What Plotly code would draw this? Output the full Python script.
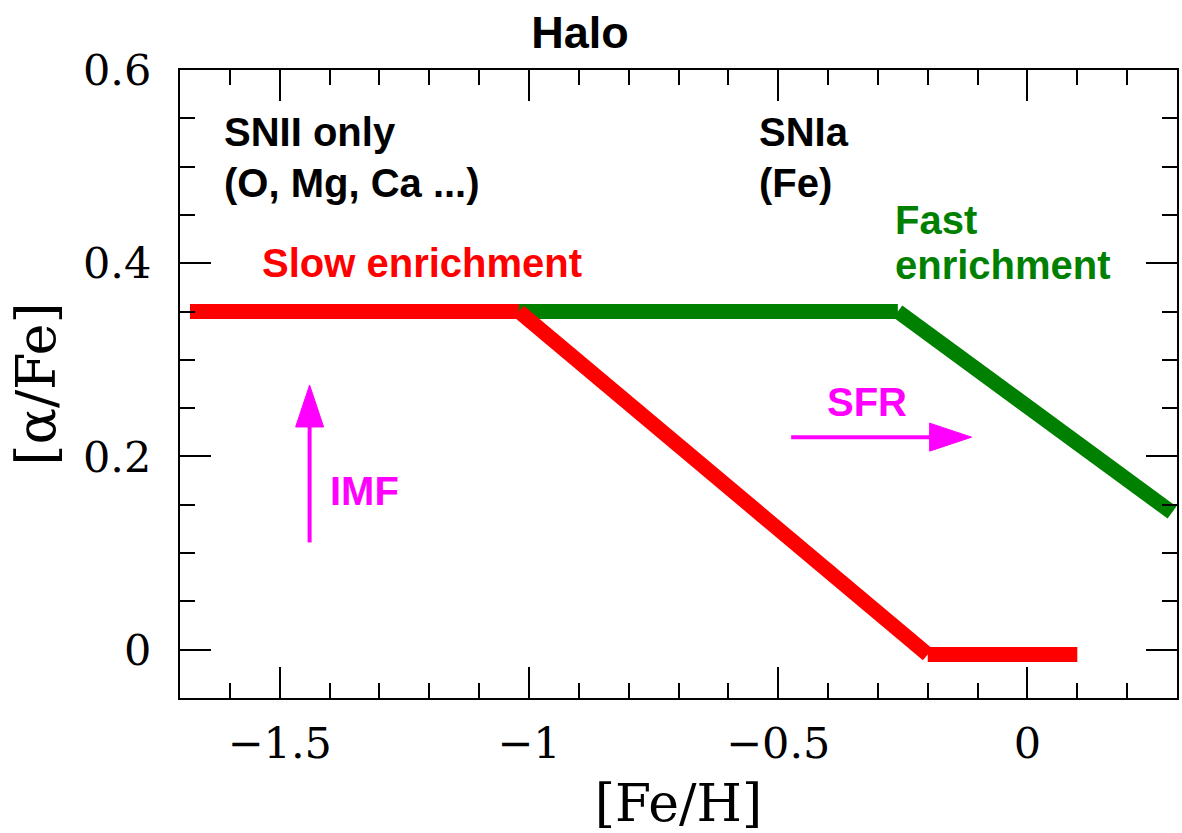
import plotly.graph_objects as go

# Chemical-evolution tracks in the [Fe/H] - [alpha/Fe] plane
slow_fe = [-1.68, -1.02, -0.20, 0.10]
slow_alpha = [0.35, 0.35, -0.005, -0.005]
fast_fe = [-1.02, -0.26, 0.29]
fast_alpha = [0.35, 0.35, 0.142]

x_range = [-1.7, 0.3]
y_range = [-0.05, 0.6]
x_ticks = [-1.5, -1, -0.5, 0]
x_ticktext = ["\u22121.5", "\u22121", "\u22120.5", "0"]
y_ticks = [0, 0.2, 0.4, 0.6]
y_ticktext = ["0", "0.2", "0.4", "0.6"]

# Arrows: tail and tip, in data coordinates
sfr_tail, sfr_tip = (-0.474, 0.220), (-0.112, 0.220)
imf_tail, imf_tip = (-1.44, 0.111), (-1.44, 0.274)

W, H = 1182, 833
M = dict(l=180, r=5, t=70, b=135)
plot_w = W - M["l"] - M["r"]
plot_h = H - M["t"] - M["b"]
ux = (x_range[1] - x_range[0]) / plot_w   # data units per pixel
uy = (y_range[1] - y_range[0]) / plot_h

RED, GREEN, MAGENTA = "#ff0000", "#008000", "#ff00ff"
SANS = "Liberation Sans, Arial, sans-serif"
SERIF = "DejaVu Serif, serif"

fig = go.Figure()

# draw each track as separate straight pieces (butt ends at the joints)
def add_track(xs, ys, color):
    for i in range(len(xs) - 1):
        fig.add_trace(go.Scatter(
            x=xs[i:i + 2], y=ys[i:i + 2], mode="lines",
            line=dict(color=color, width=15),
            hoverinfo="skip", showlegend=False))

add_track(fast_fe, fast_alpha, GREEN)
add_track(slow_fe, slow_alpha, RED)


def arrow(tail, tip, color, head_len=42, head_half=14, width=4):
    (x0, y0), (x1, y1) = tail, tip
    # direction in pixel space
    dxp, dyp = (x1 - x0) / ux, (y1 - y0) / uy
    norm = (dxp ** 2 + dyp ** 2) ** 0.5
    ex, ey = dxp / norm, dyp / norm
    nx, ny = -ey, ex
    bx, by = x1 - ex * head_len * ux, y1 - ey * head_len * uy
    fig.add_shape(type="line", x0=x0, y0=y0, x1=bx, y1=by,
                  line=dict(color=color, width=width), layer="above")
    p1 = (bx + nx * head_half * ux, by + ny * head_half * uy)
    p2 = (bx - nx * head_half * ux, by - ny * head_half * uy)
    path = f"M{x1},{y1} L{p1[0]},{p1[1]} L{p2[0]},{p2[1]} Z"
    fig.add_shape(type="path", path=path, fillcolor=color,
                  line=dict(color=color, width=1), layer="above")


arrow(sfr_tail, sfr_tip, MAGENTA)
arrow(imf_tail, imf_tip, MAGENTA)


def label(x, y, text, color, xanchor="left"):
    fig.add_annotation(x=x, y=y, text=text, showarrow=False,
                       xanchor=xanchor, yanchor="middle",
                       font=dict(family=SANS, size=40, color=color, weight=700))


label(-1.616, 0.536, "SNII only", "black")
label(-1.616, 0.483, "(O, Mg, Ca ...)", "black")
label(-0.542, 0.536, "SNIa", "black")
label(-0.542, 0.483, "(Fe)", "black")
label(-1.54, 0.400, "Slow enrichment", RED)
label(-0.27, 0.445, "Fast", GREEN)
label(-0.27, 0.398, "enrichment", GREEN)
label(-0.322, 0.256, "SFR", MAGENTA, xanchor="center")
label(-1.33, 0.164, "IMF", MAGENTA, xanchor="center")

axis_common = dict(
    showline=True, linecolor="black", linewidth=2, mirror="allticks",
    ticks="inside", ticklen=31, tickwidth=2, tickcolor="black",
    showgrid=False, zeroline=False,
    tickfont=dict(family=SERIF, size=43, color="black"),
)

fig.update_xaxes(
    range=x_range, tickmode="array", tickvals=x_ticks, ticktext=x_ticktext,
    minor=dict(tickmode="linear", tick0=0, dtick=0.1, ticks="inside",
               ticklen=15, tickwidth=2, tickcolor="black"),
    ticklabelstandoff=6,
    title=dict(text="[Fe/H]", font=dict(family=SERIF, size=52, color="black"),
               standoff=22),
    **axis_common)
fig.update_yaxes(
    range=y_range, tickmode="array", tickvals=y_ticks, ticktext=y_ticktext,
    minor=dict(tickmode="linear", tick0=0, dtick=0.05, ticks="inside",
               ticklen=15, tickwidth=2, tickcolor="black"),
    ticklabelstandoff=18,
    title=dict(text="[\u03b1/Fe]", font=dict(family=SERIF, size=54, color="black"),
               standoff=10),
    **axis_common)

fig.update_layout(
    width=W, height=H, margin=M,
    paper_bgcolor="white", plot_bgcolor="white",
    title=dict(text="Halo", x=580 / W, xanchor="center", xref="container",
               y=1 - 32 / H, yanchor="middle", yref="container",
               font=dict(family=SANS, size=45, color="black", weight=700)),
)
fig.layout.xaxis.automargin = False
fig.layout.yaxis.automargin = False

fig.write_html("out.html")
